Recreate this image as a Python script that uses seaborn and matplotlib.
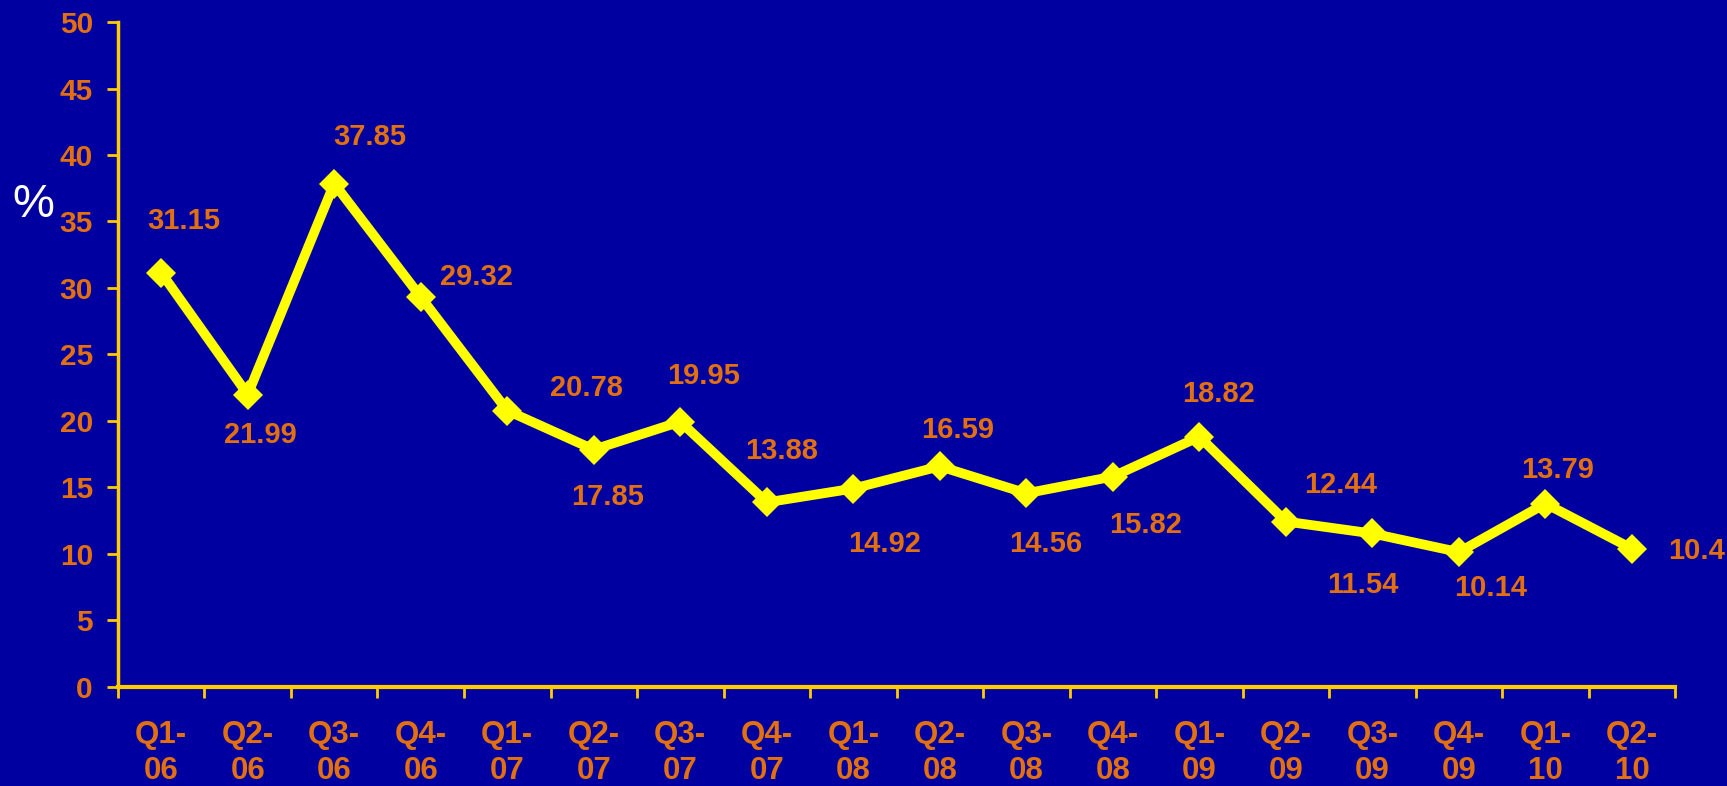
import matplotlib
matplotlib.use("Agg")
import matplotlib.pyplot as plt
import seaborn as sns
import pandas as pd
from matplotlib.ticker import FixedLocator

# Quarterly rate series (%)
quarters = ["Q1-06", "Q2-06", "Q3-06", "Q4-06", "Q1-07", "Q2-07", "Q3-07", "Q4-07",
            "Q1-08", "Q2-08", "Q3-08", "Q4-08", "Q1-09", "Q2-09", "Q3-09", "Q4-09",
            "Q1-10", "Q2-10"]
values = [31.15, 21.99, 37.85, 29.32, 20.78, 17.85, 19.95, 13.88,
          14.92, 16.59, 14.56, 15.82, 18.82, 12.44, 11.54, 10.14,
          13.79, 10.4]
tick_labels = [q.replace("-", "-\n") for q in quarters]
value_labels = [f"{v:g}" for v in values]

# Placement of each value label relative to its point (pixels)
label_offsets = [(23, 52), (13, -40), (36, 47), (56, 20), (79, 23), (14, -47),
                 (23, 46), (15, 51), (31, -55), (18, 36), (19, -51), (33, -48),
                 (19, 43), (55, 37), (-10, -52), (32, -36), (12, 34), (65, -2)]

BG = "#0000A0"
ORANGE = "#E2700F"
GOLD = "#FFCC00"
YELLOW = "#FFFF00"

sns.set_theme(style="white")
plt.rcParams["font.family"] = ["Liberation Sans", "DejaVu Sans"]

df = pd.DataFrame({"quarter": quarters, "value": values})

fig = plt.figure(figsize=(17.27, 7.86), dpi=100, facecolor=BG)
ax = fig.add_axes([0.0683, 0.126, 0.9017, 0.846])
ax.set_facecolor(BG)

sns.lineplot(data=df, x="quarter", y="value", ax=ax, color=YELLOW, linewidth=7,
             marker="D", markersize=15, markeredgewidth=0, markerfacecolor=YELLOW,
             sort=False)

ax.set_xlim(-0.5, len(quarters) - 0.5)
ax.set_ylim(0, 50)
ax.set_yticks(range(0, 51, 5))

ax.set_xticks(range(len(quarters)))
ax.set_xticklabels(tick_labels, linespacing=1.25)
ax.xaxis.set_minor_locator(FixedLocator([i - 0.5 for i in range(len(quarters) + 1)]))
ax.tick_params(axis="x", which="major", length=0, pad=24, labelsize=22.5,
               labelcolor=ORANGE)
ax.tick_params(axis="x", which="minor", length=8, width=2, color=GOLD,
               direction="out", bottom=True)
ax.tick_params(axis="y", length=8, width=2, color=GOLD, direction="out",
               left=True, pad=10, labelsize=21.5, labelcolor=ORANGE)
for lab in ax.get_xticklabels() + ax.get_yticklabels():
    lab.set_fontweight("bold")

for side in ("top", "right"):
    ax.spines[side].set_visible(False)
ax.spines["left"].set_color(GOLD)
ax.spines["left"].set_linewidth(2.5)
ax.spines["bottom"].set_color(GOLD)
ax.spines["bottom"].set_linewidth(3)
ax.set_xlabel("")
ax.set_ylabel("")
ax.grid(False)

for i, (v, txt, (dx, dy)) in enumerate(zip(values, value_labels, label_offsets)):
    ax.annotate(txt, xy=(i, v), xytext=(dx, dy), textcoords="offset pixels",
                ha="center", va="center", fontsize=21, fontweight="bold",
                color=ORANGE)

fig.text(33 / 1727, 1 - 205 / 786, "%", color="white", fontsize=34,
         ha="center", va="center")

fig.savefig("out.png", dpi=100, facecolor=BG)
